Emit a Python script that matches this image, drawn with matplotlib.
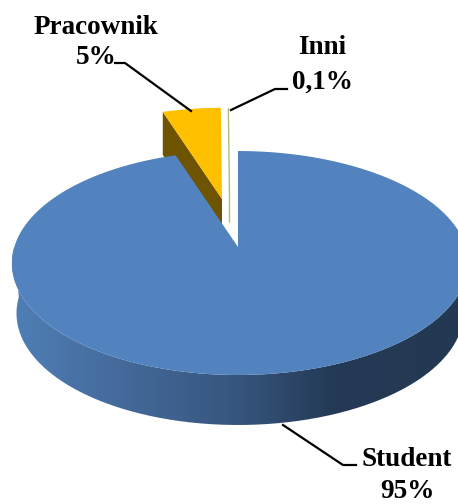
import numpy as np
import matplotlib
matplotlib.use('Agg')
import matplotlib.pyplot as plt
from matplotlib.colors import LinearSegmentedColormap
from matplotlib.patches import PathPatch, Polygon
from matplotlib.path import Path

labels = ['Student', 'Pracownik', 'Inni']
values = [95, 5, 0.1]
value_texts = ['95%', '5%', '0,1%']

plt.rcParams['font.family'] = ['Liberation Serif', 'DejaVu Serif']


def project(t, cx, cy, scale=1.0):
    # circle seen in perspective, the circle centre lands on (cx, cy)
    w = 1 + 0.1429 * np.cos(t)
    x = cx + scale * (225.7 * np.sin(t) / w + 2 * np.sin(t) ** 2)
    y = cy - scale * 109.7 * np.cos(t) / w
    return x, y


def wedge_xy(t0, t1, cx, cy, scale=1.0):
    t = np.linspace(t0, t1, 300)
    x, y = project(t, cx, cy, scale)
    return np.r_[cx, x], np.r_[cy, y]


fracs = np.array(values) / sum(values) * 2 * np.pi
ends = np.cumsum(fracs)
starts = ends - fracs

fig = plt.figure(figsize=(4.58, 5.04), dpi=100)
ax = fig.add_axes([0, 0, 1, 1])
ax.set_xlim(0, 458)
ax.set_ylim(504, 0)
ax.axis('off')

# Pracownik, exploded and a bit smaller
px, py = 222, 199
x, y = wedge_xy(starts[1], ends[1], px, py, 0.95)
depth_small = 43
lx, ly = project(starts[1], px, py, 0.95)
ax.add_patch(Polygon([(lx, ly), (px, py), (px, py + depth_small), (lx, ly + depth_small)],
                     closed=True, fc='#6e5300', ec='none', zorder=1))
ax.add_patch(Polygon(np.c_[x, y], closed=True, fc='#ffc000', ec='none', zorder=2))

# Inni, almost nothing but a sliver
ix, iy = 229.5, 198
x, y = wedge_xy(starts[2], ends[2], ix, iy, 0.93)
ax.plot([x[1], ix, ix], [y[1], iy, iy + 24], color='#a9c27a', lw=1.0, zorder=2)

# Student
cx, cy = 238, 247
tt = np.linspace(np.pi / 2, 3 * np.pi / 2, 300)
ex, ey = project(tt, cx, cy)
depth = 50
bx = 240 + (ex - 240) * 0.98
by = ey + depth
wall = Path(np.r_[np.c_[ex, ey], np.c_[bx, by][::-1], [[ex[0], ey[0]]]], closed=False)
wall_cmap = LinearSegmentedColormap.from_list(
    'wall', [(0, '#4f7fb6'), (0.25, '#44699a'), (0.5, '#37567f'), (0.72, '#243a56'), (1, '#233953')])
grad = np.linspace(0, 1, 256).reshape(1, -1)
im = ax.imshow(grad, cmap=wall_cmap, extent=[12, 458, 504, 0], aspect='auto', zorder=3)
patch = PathPatch(wall, fc='none', ec='none', transform=ax.transData)
ax.add_patch(patch)
im.set_clip_path(patch)
ax.set_xlim(0, 458)
ax.set_ylim(504, 0)

x, y = wedge_xy(starts[0], ends[0], cx, cy)
ax.add_patch(Polygon(np.c_[x, y], closed=True, fc='#5383be', ec='none', zorder=4))

# leader lines
ax.plot([283, 343, 356], [425, 465, 465], color='black', lw=1.6, zorder=5)
ax.plot([115, 125, 191], [63, 63, 111], color='black', lw=1.6, zorder=5)
ax.plot([231, 275, 287], [110, 89, 89], color='black', lw=1.6, zorder=5)

text_pos = [(407, 459, 492), (96, 27, 58), (322, 48, 82)]
for name, val, (tx, y1, y2) in zip(labels, value_texts, text_pos):
    ax.text(tx, y1, name, ha='center', va='center', fontsize=19.5, fontweight='bold', color='black', zorder=6)
    ax.text(tx, y2, val, ha='center', va='center', fontsize=19.5, fontweight='bold', color='black', zorder=6)

fig.savefig('out.png', dpi=100)
